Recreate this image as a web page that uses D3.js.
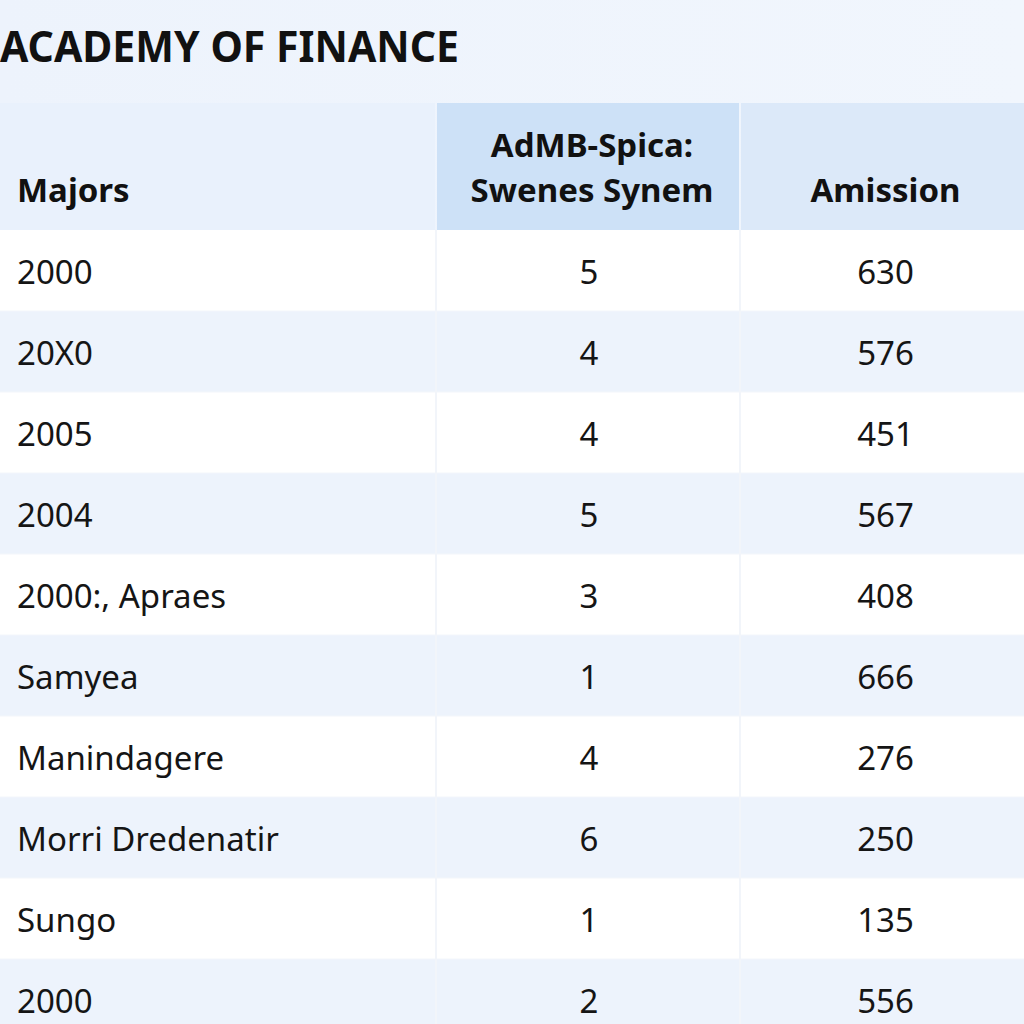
<!DOCTYPE html>
<html>
<head>
<meta charset="utf-8">
<script src="https://cdn.jsdelivr.net/npm/d3@7"></script>
<style>
  html, body { margin: 0; padding: 0; background: #eef4fd; }
  svg { display: block; }
</style>
</head>
<body>
<svg id="chart" width="1024" height="1024"></svg>
<script>
// ---- data ----
const title = "ACADEMY OF FINANCE";
const columns = ["Majors", "AdMB-Spica:\nSwenes Synem", "Amission"];
const majors = ["2000", "20X0", "2005", "2004", "2000:, Apraes", "Samyea", "Manindagere", "Morri̇ Dredenatir", "Sungo", "2000"];
const systemValues = [5, 4, 4, 5, 3, 1, 4, 6, 1, 2];
const admissionValues = [630, 576, 451, 567, 408, 666, 276, 250, 135, 556];

// ---- layout ----
const W = 1024, H = 1024;
const svg = d3.select("#chart");
const FONT = "'Noto Sans', 'Open Sans', sans-serif";

const defs = svg.append("defs");
const bg = defs.append("linearGradient").attr("id", "bg").attr("x1", 0).attr("y1", 0).attr("x2", 1).attr("y2", 0);
bg.append("stop").attr("offset", "0%").attr("stop-color", "#edf3fc");
bg.append("stop").attr("offset", "100%").attr("stop-color", "#f1f6fd");
svg.append("rect").attr("width", W).attr("height", H).attr("fill", "url(#bg)");

const colEdges = [0, 437, 741, 1024];
const x = d3.scaleOrdinal().domain(columns).range(colEdges.slice(0, 3));
const colWidth = i => colEdges[i + 1] - colEdges[i];

const headerTop = 103, headerBottom = 230;
const y = d3.scaleBand().domain(d3.range(majors.length)).range([headerBottom, 1040]).paddingInner(0);

// title
svg.append("text")
  .attr("x", 0).attr("y", 62)
  .attr("font-family", FONT).attr("font-weight", 700).attr("font-size", 43)
  .attr("fill", "#111")
  .attr("textLength", 459).attr("lengthAdjust", "spacingAndGlyphs")
  .text(title);

// header cells
const headerFills = ["#e9f1fc", "#cde1f7", "#dce9f9"];
columns.forEach((c, i) => {
  svg.append("rect")
    .attr("x", x(c)).attr("y", headerTop)
    .attr("width", colWidth(i) - (i < 2 ? 2 : 0)).attr("height", headerBottom - headerTop)
    .attr("fill", headerFills[i]);
});

// header texts
columns.forEach((c, i) => {
  const lines = c.split("\n");
  const t = svg.append("text")
    .attr("font-family", FONT).attr("font-weight", 700).attr("font-size", 33)
    .attr("fill", "#111")
    .attr("text-anchor", i === 0 ? "start" : "middle");
  const tx = i === 0 ? 17 : x(c) + colWidth(i) / 2 + 3;
  const lastBase = 202;
  lines.forEach((ln, k) => {
    t.append("tspan")
      .attr("x", tx)
      .attr("y", lastBase - (lines.length - 1 - k) * 45)
      .text(ln);
  });
});

// rows
const rows = majors.map((m, i) => ({ i, major: m, sys: systemValues[i], adm: admissionValues[i] }));
const rowG = svg.selectAll("g.row").data(rows).join("g").attr("class", "row");

rowG.append("rect")
  .attr("x", 0).attr("y", d => y(d.i))
  .attr("width", W).attr("height", y.bandwidth())
  .attr("fill", d => d.i % 2 === 0 ? "#ffffff" : "#edf3fc");

[colEdges[1] - 1, colEdges[2] - 1].forEach(sx => {
  svg.append("line")
    .attr("x1", sx).attr("x2", sx)
    .attr("y1", headerBottom).attr("y2", H)
    .attr("stroke", "#f2f5fa").attr("stroke-width", 2);
});
rowG.filter(d => d.i > 0).append("line")
  .attr("x1", 0).attr("x2", W)
  .attr("y1", d => y(d.i)).attr("y2", d => y(d.i))
  .attr("stroke", "#f3f6fb").attr("stroke-width", 1);

const textY = d => y(d.i) + y.bandwidth() / 2 + 13;
rowG.append("text")
  .attr("x", 17).attr("y", textY)
  .attr("font-family", FONT).attr("font-size", 33).attr("fill", "#151515")
  .attr("textLength", d => d.major.length > 10 ? null : null)
  .text(d => d.major);
rowG.append("text")
  .attr("x", x(columns[1]) + colWidth(1) / 2).attr("y", textY)
  .attr("text-anchor", "middle")
  .attr("font-family", FONT).attr("font-size", 33).attr("fill", "#151515")
  .text(d => d.sys);
rowG.append("text")
  .attr("x", x(columns[2]) + colWidth(2) / 2 + 3).attr("y", textY)
  .attr("text-anchor", "middle")
  .attr("font-family", FONT).attr("font-size", 33).attr("fill", "#151515")
  .text(d => d.adm);
</script>
</body>
</html>
